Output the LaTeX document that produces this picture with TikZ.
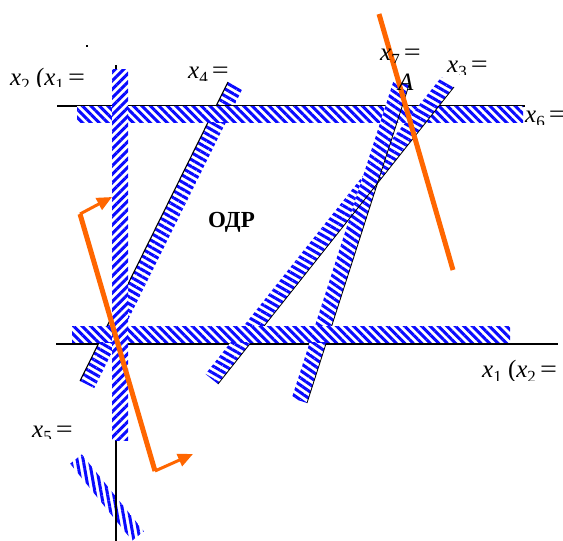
\documentclass[tikz,border=0pt]{standalone}
\usepackage{fontspec}
\setmainfont{Liberation Serif}
\usetikzlibrary{patterns.meta,arrows.meta}
\definecolor{odrorange}{RGB}{255,102,0}
\definecolor{bandblue}{RGB}{10,10,255}
\tikzset{
  band/.style={preaction={fill=white},pattern={Lines[angle=#1,distance=6pt,line width=3pt]},pattern color=bandblue},
  cline/.style={line width=1.1pt,black},
  axisline/.style={line width=1.3pt,black},
  objline/.style={line width=5pt,odrorange},
  gradarrow/.style={line width=3pt,odrorange,-{Triangle[length=15pt,width=13pt]}},
  lab/.style={inner sep=0pt,anchor=base west,font=\fontsize{25}{29}\selectfont},
}
\newcommand\clplabel[5]{%
  \begin{scope}
    \clip (#1-5,#2-40) rectangle (#1+160,#3);
    \node[lab] (#4) at (#1,#2) {#5};
  \end{scope}}
\newcommand\sbs[1]{\raisebox{-5.5pt}{\fontsize{17}{19}\selectfont #1}}
\newcommand\eqs{\,\scalebox{1.2}[1]{=}}
\begin{document}
\begin{tikzpicture}[x=1pt,y=-1pt]
\useasboundingbox (0,0) rectangle (563,541);
\fill[white] (0,0) rectangle (563,541);

% x5 band (lower left)
\path[band=-80] (70.2,463.7) -- (81.8,454.3) -- (143.8,531.3) -- (132.2,540.7) -- cycle;

% axes
\coordinate (hax0) at (56,344);
\coordinate (hax1) at (558,344);
\coordinate (vax0) at (116,65);
\coordinate (vax1) at (116,541);
\draw[axisline] (hax0) -- (hax1);
\draw[axisline] (vax0) -- (vax1);

% x4 constraint
\coordinate (p4) at (80,381);
\coordinate (q4) at (228,82);
\path[band=-30] (p4) -- (q4) -- (242.3,89.1) -- (94.3,388.1) -- cycle;
\draw[cline] (p4) -- (q4);

% x6 constraint (top horizontal)
\coordinate (p6) at (57,106);
\coordinate (q6) at (525,106);
\draw[cline] (p6) -- (q6);
\path[band=-45] (77,106) rectangle (523,122);

% x3 constraint
\coordinate (p3) at (218,384);
\coordinate (q3) at (454,87);
\path[band=-30] (p3) -- (q3) -- (441.5,77) -- (205.5,374) -- cycle;
% steep constraint
\coordinate (pb) at (307,403);
\coordinate (qb) at (409,85);
\path[band=-35] (pb) -- (qb) -- (393.8,80.1) -- (291.8,398.1) -- cycle;
\draw[line width=0.8pt] (p3) -- (q3);
\draw[line width=0.8pt] (pb) -- (qb);

% bottom horizontal band
\path[band=-45] (72,326) rectangle (510,342);
% vertical band
\path[band=45] (112,69) rectangle (128,440);

% objective lines and gradient arrows
\coordinate (o1) at (80,214);
\coordinate (o2) at (155,471);
\coordinate (g1) at (112,197);
\coordinate (g2) at (193,454);
\draw[objline,line join=miter] (o1) -- (o2);
\draw[gradarrow] (o1) -- (g1);
\draw[gradarrow] (o2) -- (g2);
\coordinate (o3) at (379,14);
\coordinate (o4) at (453,270);
\draw[objline] (o3) -- (o4);

% small dot
\fill (86,45) rectangle (88,47);

% labels
\clplabel{10}{85}{86}{lx2}{\textit{x}\sbs{2} (\textit{x}\sbs{1}\eqs}
\clplabel{188}{78}{80}{lx4}{\textit{x}\sbs{4}\eqs}
\clplabel{380}{60}{62}{lx7}{\textit{x}\sbs{7}\eqs}
\clplabel{447}{72}{74}{lx3}{\textit{x}\sbs{3}\eqs}
\clplabel{525}{122}{124}{lx6}{\textit{x}\sbs{6}\eqs}
\clplabel{482}{377}{380}{lx1}{\textit{x}\sbs{1} (\textit{x}\sbs{2}\eqs}
\clplabel{32}{437}{438}{lx5}{\textit{x}\sbs{5}\eqs}
\node[lab] (lA) at (398,90) {\textit{A}};
\node[lab,font=\fontsize{23}{27}\selectfont\bfseries] (odr) at (208,227) {ОДР};
\end{tikzpicture}
\end{document}
